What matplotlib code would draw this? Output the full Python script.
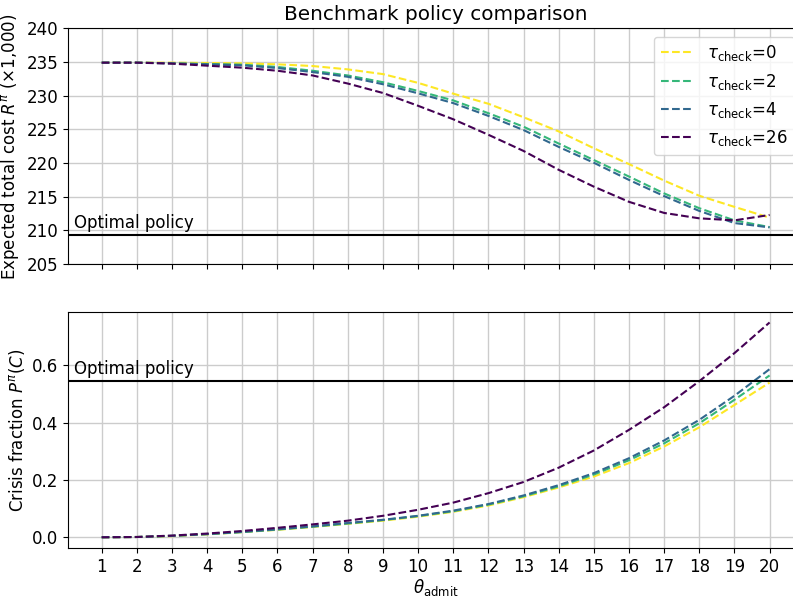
import numpy as np
import matplotlib
matplotlib.use("Agg")
import matplotlib.pyplot as plt

plt.rcParams['font.size'] = 12

# admission thresholds
theta = np.arange(1, 21)
tau_checks = [0, 2, 4, 26]

# expected total cost (x1,000), one list per tau_check
cost_0 = [234.9, 234.9, 234.9, 234.85, 234.8, 234.65, 234.4, 233.9, 233.2, 231.9,
          230.3, 228.8, 226.8, 224.7, 222.2, 219.85, 217.4, 215.15, 213.5, 211.9]
cost_2 = [234.9, 234.9, 234.8, 234.7, 234.6, 234.26, 233.7, 233.0, 232.0, 230.7,
          229.3, 227.4, 225.4, 222.9, 220.45, 218.0, 215.5, 213.3, 211.5, 210.5]
cost_4 = [234.9, 234.9, 234.8, 234.65, 234.5, 234.1, 233.5, 232.8, 231.7, 230.35,
          228.9, 227.0, 224.9, 222.4, 220.05, 217.5, 215.1, 212.9, 211.1, 210.45]
cost_26 = [234.9, 234.9, 234.75, 234.45, 234.15, 233.7, 233.0, 231.8, 230.4, 228.5,
           226.5, 224.2, 221.8, 219.0, 216.5, 214.25, 212.6, 211.8, 211.5, 212.3]

# crisis fraction, one list per tau_check
crisis_0 = [0.0, 0.001, 0.004, 0.010, 0.018, 0.026, 0.036, 0.047, 0.058, 0.072,
            0.089, 0.111, 0.140, 0.174, 0.212, 0.259, 0.317, 0.384, 0.462, 0.540]
crisis_2 = [0.0, 0.001, 0.005, 0.011, 0.018, 0.027, 0.037, 0.048, 0.060, 0.074,
            0.091, 0.114, 0.143, 0.178, 0.219, 0.269, 0.328, 0.398, 0.480, 0.565]
crisis_4 = [0.0, 0.001, 0.005, 0.011, 0.019, 0.028, 0.038, 0.050, 0.061, 0.075,
            0.093, 0.116, 0.146, 0.182, 0.224, 0.276, 0.338, 0.410, 0.494, 0.587]
crisis_26 = [0.0, 0.001, 0.006, 0.013, 0.022, 0.033, 0.045, 0.058, 0.075, 0.096,
             0.121, 0.154, 0.193, 0.243, 0.303, 0.375, 0.454, 0.545, 0.643, 0.750]

opt_cost = 209.4
opt_crisis = 0.545

costs = [cost_0, cost_2, cost_4, cost_26]
crises = [crisis_0, crisis_2, crisis_4, crisis_26]
colors = plt.cm.viridis(np.linspace(1, 0, len(tau_checks)))

fig = plt.figure(figsize=(7.93, 5.99), dpi=100)
ax1 = fig.add_axes([0.0861, 0.559, 0.9265, 0.3938])
ax2 = fig.add_axes([0.0861, 0.0851, 0.9265, 0.3945], sharex=ax1)

for i, tc in enumerate(tau_checks):
    ax1.plot(theta, costs[i], '--', color=colors[i], lw=1.5,
             label=r'$\tau_{\rm check}$=%d' % tc)
    ax2.plot(theta, crises[i], '--', color=colors[i], lw=1.5)

ax1.axhline(opt_cost, color='k', lw=1.5)
ax1.text(0.2, opt_cost + 0.4, 'Optimal policy', va='bottom', ha='left')
ax2.axhline(opt_crisis, color='k', lw=1.5)
ax2.text(0.2, opt_crisis + 0.01, 'Optimal policy', va='bottom', ha='left')

ax1.set_ylim(205, 240)
ax1.set_yticks(np.arange(205, 241, 5))
ax1.set_xticks(theta)
ax1.tick_params(labelbottom=False)
ax1.set_ylabel(r'Expected total cost $R^{\pi}$ ($\times$1,000)')
ax1.set_title('Benchmark policy comparison')
ax1.legend(loc='upper right')
ax1.grid(color='#cccccc', lw=1)

ax2.set_yticks([0.0, 0.2, 0.4, 0.6])
ax2.set_ylabel(r'Crisis fraction $P^{\pi}(C)$')
ax2.set_xlabel(r'$\theta_{\rm admit}$', labelpad=1)
ax2.grid(color='#cccccc', lw=1)

plt.savefig('out.png', dpi=100)
